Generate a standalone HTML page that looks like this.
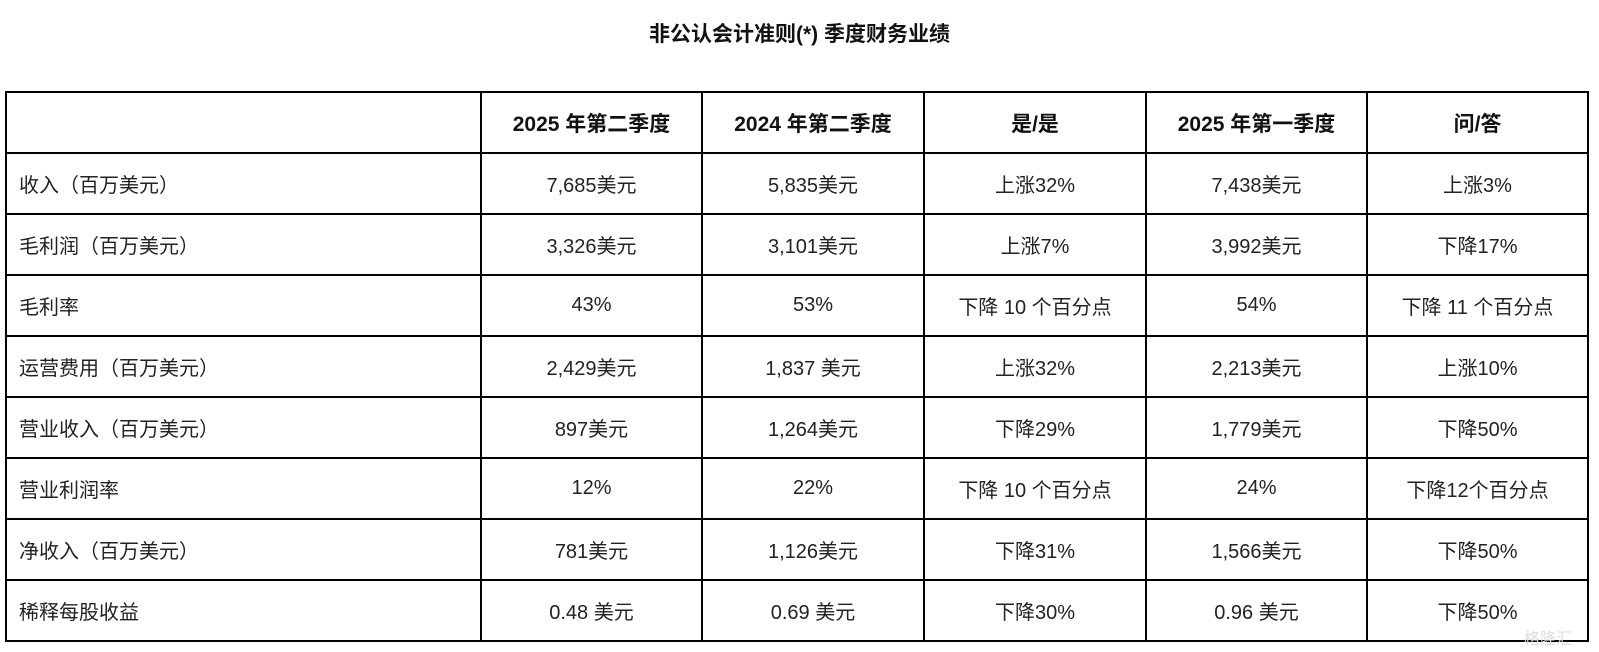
<!DOCTYPE html>
<html><head><meta charset="utf-8">
<style>
html,body{margin:0;padding:0;background:#fff;}
body{width:1599px;height:652px;position:relative;overflow:hidden;font-family:"Liberation Sans","Noto Sans CJK SC",sans-serif;color:#222;}
#title{position:absolute;left:0;top:18px;width:1599px;text-align:center;font-size:21px;font-weight:bold;color:#111;}
table{position:absolute;left:5px;top:91px;border-collapse:collapse;table-layout:fixed;}
td,th{border:2px solid #000;font-size:20px;text-align:center;padding:0;height:61px;white-space:nowrap;box-sizing:border-box;}
th{font-weight:bold;font-size:21px;color:#111;}
td.l{text-align:left;padding-left:12px;}
#wm{position:absolute;left:1524px;top:625px;font-size:16px;color:#ddd;}
</style></head>
<body>
<div id="title">非公认会计准则(*) 季度财务业绩</div>
<table>
<colgroup><col style="width:475px"><col style="width:221px"><col style="width:222px"><col style="width:222px"><col style="width:221px"><col style="width:221px"></colgroup>
<tr><th></th><th>2025 年第二季度</th><th>2024 年第二季度</th><th>是/是</th><th>2025 年第一季度</th><th>问/答</th></tr>
<tr><td class="l">收入（百万美元）</td><td>7,685美元</td><td>5,835美元</td><td>上涨32%</td><td>7,438美元</td><td>上涨3%</td></tr>
<tr><td class="l">毛利润（百万美元）</td><td>3,326美元</td><td>3,101美元</td><td>上涨7%</td><td>3,992美元</td><td>下降17%</td></tr>
<tr><td class="l">毛利率</td><td>43%</td><td>53%</td><td>下降 10 个百分点</td><td>54%</td><td>下降 11 个百分点</td></tr>
<tr><td class="l">运营费用（百万美元）</td><td>2,429美元</td><td>1,837 美元</td><td>上涨32%</td><td>2,213美元</td><td>上涨10%</td></tr>
<tr><td class="l">营业收入（百万美元）</td><td>897美元</td><td>1,264美元</td><td>下降29%</td><td>1,779美元</td><td>下降50%</td></tr>
<tr><td class="l">营业利润率</td><td>12%</td><td>22%</td><td>下降 10 个百分点</td><td>24%</td><td>下降12个百分点</td></tr>
<tr><td class="l">净收入（百万美元）</td><td>781美元</td><td>1,126美元</td><td>下降31%</td><td>1,566美元</td><td>下降50%</td></tr>
<tr><td class="l">稀释每股收益</td><td>0.48 美元</td><td>0.69 美元</td><td>下降30%</td><td>0.96 美元</td><td>下降50%</td></tr>
</table>
<div id="wm">格隆汇</div>
</body></html>
